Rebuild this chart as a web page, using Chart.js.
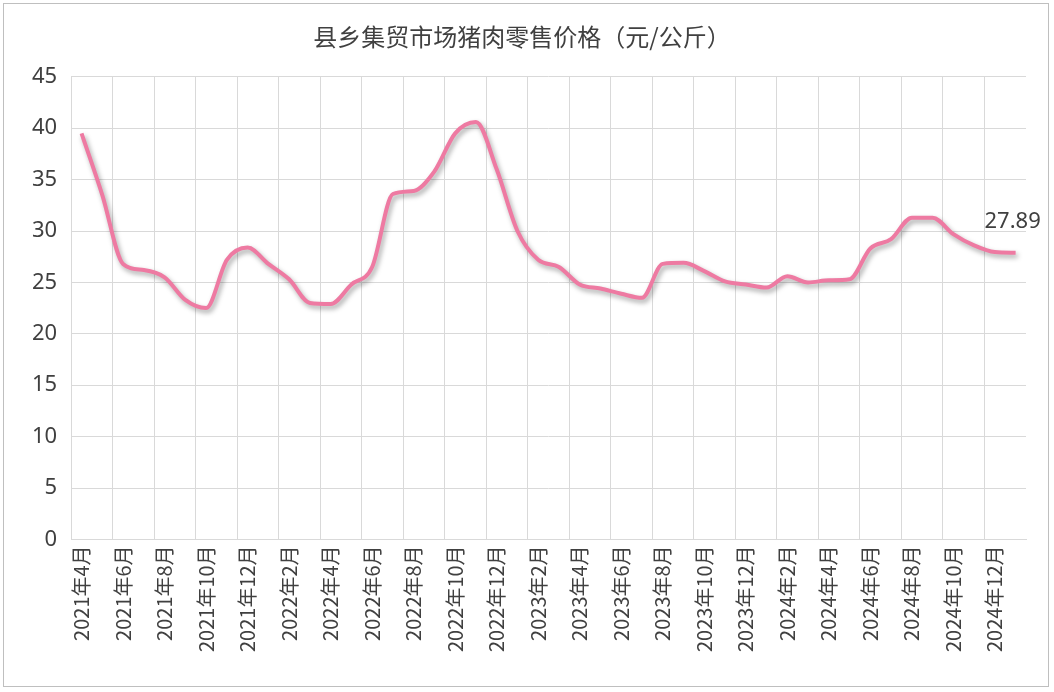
<!DOCTYPE html>
<html>
<head>
<meta charset="utf-8">
<script src="https://cdn.jsdelivr.net/npm/chart.js@4"></script>
<style>
  html, body { margin: 0; padding: 0; background: #fff; }
  #wrap { position: absolute; left: 3px; top: 3px; width: 1046px; height: 684px; border: 1px solid #bfbfbf; box-sizing: border-box; }
</style>
</head>
<body>
<div id="wrap"><canvas id="c"></canvas></div>
<script>
// 月份 2021年4月 — 2025年1月
const months = [];
for (let y = 2021, m = 4; y < 2025 || (y === 2025 && m <= 1); m++) {
  if (m > 12) { m = 1; y++; }
  if (y === 2025 && m > 1) break;
  months.push(y + '年' + m + '月');
}

const prices = [
  39.5, 33.5, 26.8, 26.2, 25.5, 23.3, 22.5, 27.2, 28.4,
  26.8, 25.3, 23.0, 22.9, 24.8, 26.5, 33.6, 33.9, 35.8, 39.5, 40.6, 36.0,
  30.0, 27.2, 26.5, 24.8, 24.4, 23.9, 23.5, 26.8, 26.9, 26.1, 25.1, 24.8,
  24.5, 25.6, 25.0, 25.2, 25.3, 28.3, 29.2, 31.3, 31.3, 29.7, 28.6, 27.95,
  27.89
];

const yTicks = [0, 5, 10, 15, 20, 25, 30, 35, 40, 45];

const shadow = {
  id: 'shadow',
  beforeDatasetsDraw(chart) {
    const ctx = chart.ctx;
    ctx.save();
    ctx.shadowColor = 'rgba(0,0,0,0.35)';
    ctx.shadowBlur = 5;
    ctx.shadowOffsetX = 2;
    ctx.shadowOffsetY = 3;
  },
  afterDatasetsDraw(chart) { chart.ctx.restore(); }
};

const lastLabel = {
  id: 'lastLabel',
  afterDatasetsDraw(chart) {
    const meta = chart.getDatasetMeta(0);
    const p = meta.data[meta.data.length - 1];
    const ctx = chart.ctx;
    ctx.save();
    ctx.font = '22px "Noto Sans", sans-serif';
    ctx.fillStyle = '#404040';
    ctx.textAlign = 'center';
    ctx.textBaseline = 'bottom';
    ctx.fillText(prices[prices.length - 1].toFixed(2), p.x - 3, p.y - 20);
    ctx.restore();
  }
};

new Chart(document.getElementById('c'), {
  type: 'line',
  data: {
    labels: months,
    datasets: [{
      data: prices,
      borderColor: '#ee7aa2',
      borderWidth: 4,
      pointRadius: 0,
      cubicInterpolationMode: 'monotone',
      fill: false,
    }],
  },
  options: {
    responsive: true,
    maintainAspectRatio: false,
    animation: false,
    layout: { padding: { left: 14, right: 22, top: 8, bottom: 28 } },
    plugins: {
      legend: { display: false },
      tooltip: { enabled: false },
      title: {
        display: true,
        text: '县乡集贸市场猪肉零售价格（元/公斤）',
        color: '#404040',
        font: { size: 24, family: '"Noto Sans CJK SC", sans-serif', weight: 'normal' },
        padding: { top: 10, bottom: 26 },
      },
    },
    scales: {
      x: {
        offset: true,
        grid: {
          offset: true,
          color: ctx => ctx.index % 2 === 0 ? '#d9d9d9' : 'rgba(0,0,0,0)',
          drawTicks: false,
        },
        border: { color: '#d9d9d9' },
        ticks: {
          autoSkip: false,
          maxRotation: 90,
          minRotation: 90,
          padding: 6,
          color: '#404040',
          font: { size: 20, family: '"Noto Sans CJK SC", sans-serif' },
          callback: (v, i) => i % 2 === 0 ? months[i] : '',
        },
      },
      y: {
        min: 0,
        max: 45,
        afterBuildTicks: axis => { axis.ticks = yTicks.map(v => ({ value: v })); },
        grid: { color: '#d9d9d9', drawTicks: false },
        border: { display: false },
        ticks: {
          padding: 14,
          color: '#404040',
          font: { size: 22, family: '"Noto Sans", sans-serif' },
        },
      },
    },
  },
  plugins: [shadow, lastLabel],
});
</script>
</body>
</html>
